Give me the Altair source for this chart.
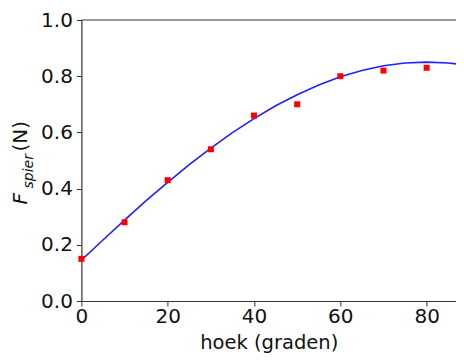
import altair as alt
import pandas as pd

# measured points
angles = [0, 10, 20, 30, 40, 50, 60, 70, 80]
force = [0.15, 0.28, 0.43, 0.54, 0.66, 0.70, 0.80, 0.82, 0.83]

# fitted curve
fit_angles = [0, 5, 10, 15, 20, 25, 30, 35, 40, 45, 50, 55, 60, 65, 70, 75, 80, 85, 90]
fit_force = [0.145, 0.217, 0.288, 0.357, 0.422, 0.485, 0.544, 0.599, 0.649, 0.695,
             0.734, 0.769, 0.798, 0.820, 0.837, 0.847, 0.850, 0.847, 0.838]

x_ticks = [0, 20, 40, 60, 80]
y_ticks = [0.0, 0.2, 0.4, 0.6, 0.8, 1.0]
x_title = "hoek (graden)"
y_title_main = "F"
y_title_sub = "spier"
y_title_unit = " (N)"

FONT = "DejaVu Sans"
W = 374.6
H = 281

pts = pd.DataFrame({"hoek": angles, "F": force})
fit = pd.DataFrame({"hoek": fit_angles, "F": fit_force})

xscale = alt.Scale(domain=[0, 86.8], nice=False, zero=False)
yscale = alt.Scale(domain=[0, 1], nice=False)

xaxis = alt.Axis(values=x_ticks, format="d", grid=False, title=x_title,
                 labelFont=FONT, labelFontSize=20, labelColor="#111",
                 titleFont=FONT, titleFontSize=19.5, titleFontWeight="normal", titleColor="#111",
                 titleBaseline="alphabetic", titleY=47,
                 domainColor="#333", domainWidth=1.2, tickColor="#333", tickSize=5,
                 labelPadding=0, labelFlush=False)
yaxis = alt.Axis(values=y_ticks, format=".1f", grid=False, title=None,
                 labelFont=FONT, labelFontSize=20, labelColor="#111",
                 domainColor="#333", domainWidth=1.2, tickColor="#333", tickSize=5,
                 labelPadding=4, labelFlush=False)

line = alt.Chart(fit).mark_line(color="#2020ff", strokeWidth=1.6, clip=True).encode(
    x=alt.X("hoek:Q", scale=xscale, axis=xaxis),
    y=alt.Y("F:Q", scale=yscale, axis=yaxis),
)
points = alt.Chart(pts).mark_square(color="#ff0000", size=36, opacity=1).encode(
    x=alt.X("hoek:Q", scale=xscale),
    y=alt.Y("F:Q", scale=yscale),
)
top = alt.Chart(pd.DataFrame({"v": [1.0]})).mark_rule(color="#333", strokeWidth=1.2).encode(
    y=alt.Y("v:Q", scale=yscale)
)

t_main = alt.Chart(pd.DataFrame({"t": [y_title_main]})).mark_text(
    angle=270, align="left", baseline="alphabetic", font=FONT, fontSize=20,
    fontStyle="italic", color="#111").encode(text="t:N", x=alt.value(-54.4), y=alt.value(184.5))
t_sub = alt.Chart(pd.DataFrame({"t": [y_title_sub]})).mark_text(
    angle=270, align="left", baseline="alphabetic", font=FONT, fontSize=14,
    fontStyle="italic", color="#111").encode(text="t:N", x=alt.value(-48.4), y=alt.value(168.5))
t_unit = alt.Chart(pd.DataFrame({"t": [y_title_unit]})).mark_text(
    angle=270, align="left", baseline="alphabetic", font=FONT, fontSize=20,
    color="#111").encode(text="t:N", x=alt.value(-54.4), y=alt.value(131.5))

chart = alt.layer(line, points, top, t_main, t_sub, t_unit).properties(
    width=W, height=H,
    autosize=alt.AutoSizeParams(type="none"),
    padding={"left": 73.4, "top": 12, "right": 0, "bottom": 52},
).configure_view(stroke=None)

chart.save("out.html", embed_options={"renderer": "svg", "actions": False})
